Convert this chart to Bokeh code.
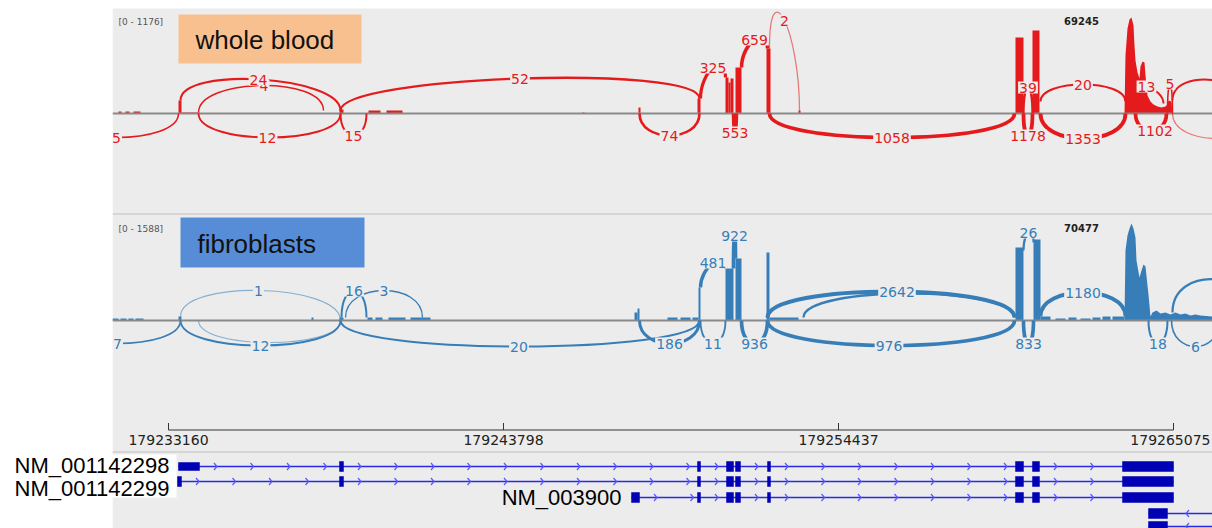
import numpy as np
from bokeh.plotting import figure
from bokeh.models import Range1d
from bokeh.core.properties import value
from bokeh.embed import file_html
from bokeh.resources import INLINE

# ---------------- data ----------------
TICKS = [179233160, 179243798, 179254437, 179265075]
TICK_LABELS = ["179233160", "179243798", "179254437", "179265075"]

SAMPLE_NAMES = ["whole blood", "fibroblasts"]
DATA_RANGE = [1176, 1588]
RANGE_TEXT = ["[0 - 1176]", "[0 - 1588]"]
MAX_TEXT = ["69245", "70477"]

# whole blood coverage (blocks)
WB_COV_START = [179231572, 179231794, 179232049, 179233478, 179233573, 179238590, 179239511,
                179240083, 179246307, 179248085, 179249959, 179250848, 179250943, 179251007,
                179251166, 179252150, 179253166, 179260057, 179260597]
WB_COV_END = [179231667, 179231922, 179232271, 179233573, 179234144, 179238717, 179239892,
              179240591, 179246370, 179248149, 179250054, 179250943, 179251007, 179251102,
              179251356, 179252277, 179253230, 179260311, 179260819]
WB_COV_DEPTH = [25, 25, 25, 159, 12, 49, 37, 37, 12, 74, 184, 441, 380, 430, 564, 796, 37, 931, 1017]
# whole blood coverage (3' end profile)
WB_PEAK_POS = [179263519, 179263550, 179263614, 179263678, 179263741, 179263805, 179263836,
               179263868, 179263932, 179263995, 179264027, 179264090, 179264154, 179264186,
               179264249, 179264344, 179264440, 179264567, 179264694, 179264821, 179264884,
               179264916, 179265011, 179265043]
WB_PEAK_DEPTH = [0, 711, 1041, 1152, 1176, 1078, 833, 649, 502, 429, 576, 637, 625, 466,
                 221, 147, 110, 86, 74, 86, 110, 159, 147, 0]
# whole blood junctions
WB_J_START = [179229540, 179233541, 179234113, 179234113, 179238622, 179238622, 179248117,
              179250054, 179251102, 179251356, 179252245, 179252245, 179260311, 179260311,
              179260851, 179260851, 179263678, 179264884, 179263868, 179265043, 179265043]
WB_J_END = [179233478, 179238622, 179238082, 179238622, 179250022, 179239448, 179250022,
            179250848, 179251197, 179252182, 179253198, 179260026, 179260597, 179260597,
            179263550, 179263550, 179264757, 179265043, 179264852, 179267838, 179267838]
WB_J_COUNT = [5, 24, 4, 12, 52, 15, 74, 325, 553, 659, 2, 1058, 39, 1178, 20, 1353, 13, 5, 1102, 15, 2]
WB_J_SIDE = [-1, 1, 1, -1, 1, -1, -1, 1, -1, 1, 1, -1, 1, -1, 1, -1, 1, 1, -1, 1, -1]

# fibroblast coverage (blocks)
FB_COV_START = [179231382, 179231636, 179231890, 179232112, 179233478, 179237701, 179238590,
                179239479, 179239733, 179240146, 179240845, 179247958, 179248054, 179249006,
                179249419, 179249800, 179249991, 179250848, 179251166, 179252150, 179252245,
                179260057, 179260629, 179260851, 179261328, 179261740, 179262122, 179262503,
                179262820, 179263138]
FB_COV_END = [179231572, 179231826, 179232049, 179232366, 179233573, 179237765, 179238717,
              179239638, 179239956, 179240686, 179241480, 179248054, 179248117, 179249324,
              179249737, 179249991, 179250054, 179251102, 179251356, 179252245, 179253166,
              179260311, 179260851, 179261169, 179261645, 179261994, 179262439, 179262756,
              179263074, 179263519]
FB_COV_DEPTH = [33, 33, 33, 33, 65, 49, 49, 49, 49, 49, 49, 131, 196, 49, 49, 49, 540, 851,
                1015, 1113, 49, 1195, 1326, 65, 33, 49, 33, 49, 65, 65]
FB_PEAK_POS = [179263519, 179263550, 179263614, 179263678, 179263741, 179263805, 179263868,
               179263900, 179263995, 179264059, 179264122, 179264186, 179264249, 179264281,
               179264344, 179264408, 179264535, 179264662, 179264821, 179264980, 179265138,
               179265297, 179265456, 179265615, 179265773, 179265932, 179266313]
FB_PEAK_DEPTH = [0, 1146, 1391, 1506, 1588, 1506, 1359, 982, 704, 819, 917, 884, 573, 426,
                 65, 131, 164, 115, 131, 98, 131, 98, 115, 82, 98, 82, 65]
FB_J_START = [179229540, 179233541, 179233541, 179234113, 179238654, 179238781, 179238622,
              179248117, 179250054, 179250054, 179251102, 179251356, 179252182, 179253325,
              179252182, 179260311, 179260311, 179260851, 179264281, 179265011, 179265043]
FB_J_END = [179233541, 179238622, 179238622, 179238622, 179239448, 179241226, 179250022,
            179250022, 179250848, 179250848, 179251166, 179252182, 179260026, 179260026,
            179260026, 179260629, 179260629, 179263550, 179264884, 179266535, 179267838]
FB_J_COUNT = [7, 1, 12, 1, 16, 3, 20, 186, 481, 11, 922, 936, 2642, 40, 976, 26, 833, 1180, 18, 6, 30]
FB_J_SIDE = [-1, 1, -1, -1, 1, 1, -1, -1, 1, -1, 1, -1, 1, 1, -1, 1, -1, 1, -1, -1, 1]

# transcripts
TX_NAMES = ["NM_001142298", "NM_001142299", "NM_003900", "", ""]
TX_STRAND = ["+", "+", "+", "-", "-"]
TX_EXON_START = [
    [179233478, 179238590, 179249959, 179250880, 179251166, 179252182, 179260057, 179260597, 179263455],
    [179233446, 179238590, 179249959, 179250880, 179251166, 179252182, 179260057, 179260597, 179263455],
    [179247863, 179249959, 179250880, 179251166, 179252182, 179260057, 179260597, 179263455],
    [179264281, 179269108],
    [179264281, 179269108],
]
TX_EXON_END = [
    [179234144, 179238717, 179250054, 179251102, 179251324, 179252277, 179260311, 179260819, 179265075],
    [179233573, 179238717, 179250054, 179251102, 179251324, 179252277, 179260311, 179260819, 179265075],
    [179248117, 179250054, 179251102, 179251324, 179252277, 179260311, 179260819, 179265075],
    [179264884, 179269300],
    [179264884, 179269300],
]

# ---------------- layout / style ----------------
RED = "#e41a1c"
BLUE = "#377eb8"
PANEL = "#ececec"
SEP = "#d6d6d6"
EXON = "#0000b4"
INTRON = "#2a2ae6"
CHEV = "#5a5aff"

TICK_PX = (168, 1173)
BPP = (TICKS[-1] - TICKS[0]) / (TICK_PX[1] - TICK_PX[0])


def gx(px):
    return TICKS[0] + (px - TICK_PX[0]) * BPP


W, H = 1212, 528
PX0, PX1, PY0, PY1 = 0, W, 0, H
X0, X1 = gx(PX0), gx(PX1)
TRACK_BASE = [113, 320]
TRACK_MAX_PX = [96, 97]
CPP = [DATA_RANGE[i] / TRACK_MAX_PX[i] for i in range(2)]
PANEL_LEFT = 112

# arc geometry (px): foot heights and apex distance from baseline
WB_FOOT0 = [0, 13, 1, 0, 3, 0, 0, 15, 0, 46, 65, 0, 0, 0, 12, 0, 20, 0, 0, 13, 0]
WB_FOOT1 = [0, 3, 3, 0, 15, 0, 0, 36, 0, 65, 3, 0, 0, 0, 12, 0, 10, 0, 0, 0, 0]
WB_APEX = [24, 34, 28, 24, 35, 22, 22, 46, 19, 74, 93, 24, 26, 22, 29, 25, 27, 30, 17, 33, 25]
WB_LABEL_DX = [0, -2, 3, -2, 0, 0, 0, 0, 0, 0, 0, 0, 0, 0, 0, 0, 0, 0, 4, 0, 0]
WB_HIDE = set()
FB_FOOT0 = [0, 4, 0, 0, 3, 3, 0, 0, 33, 0, 52, 0, 3, 3, 0, 70, 0, 4, 0, 0, 8]
FB_FOOT1 = [0, 0, 0, 0, 3, 3, 0, 0, 52, 0, 62, 0, 3, 3, 0, 78, 0, 4, 0, 0, 0]
FB_APEX = [23, 30, 25, 22, 30, 30, 26, 23, 58, 23, 85, 23, 29, 27, 25, 88, 23, 28, 23, 26, 41]
FB_LABEL_DX = [0, -2, 0, 0, 0, 0, -1, 0, 0, 0, 0, 0, 6, 0, -2, 0, 0, 0, 0, 0, 0]
FB_HIDE = {3, 13}

p = figure(width=W, height=H, x_range=Range1d(X0, X1), y_range=Range1d(PY1, PY0),
           output_backend="svg", toolbar_location=None, min_border=0,
           x_axis_location=None, y_axis_location=None,
           background_fill_color="white", border_fill_color="white", outline_line_color=None)
p.grid.visible = False
p.extra_y_ranges = {
    "wb": Range1d(-(PY1 - TRACK_BASE[0]) * CPP[0], (TRACK_BASE[0] - PY0) * CPP[0]),
    "fb": Range1d(-(PY1 - TRACK_BASE[1]) * CPP[1], (TRACK_BASE[1] - PY0) * CPP[1]),
}

# panel background
p.quad(left=gx(PANEL_LEFT), right=X1, bottom=PY1, top=8, fill_color=PANEL, line_color=None)
p.segment(x0=gx(PANEL_LEFT), x1=X1, y0=213.5, y1=213.5, line_color=SEP, line_width=2)
p.segment(x0=gx(PANEL_LEFT), x1=X1, y0=451.5, y1=451.5, line_color=SEP, line_width=2)

tracks = [
    ("wb", RED, WB_COV_START, WB_COV_END, WB_COV_DEPTH, WB_PEAK_POS, WB_PEAK_DEPTH,
     WB_J_START, WB_J_END, WB_J_COUNT, WB_J_SIDE, WB_FOOT0, WB_FOOT1, WB_APEX, WB_LABEL_DX, WB_HIDE),
    ("fb", BLUE, FB_COV_START, FB_COV_END, FB_COV_DEPTH, FB_PEAK_POS, FB_PEAK_DEPTH,
     FB_J_START, FB_J_END, FB_J_COUNT, FB_J_SIDE, FB_FOOT0, FB_FOOT1, FB_APEX, FB_LABEL_DX, FB_HIDE),
]

for ti, (rn, col, cs, ce, cd, pp, pd, js, je, jc, jside, f0, f1, ap, ldx, hide) in enumerate(tracks):
    c = CPP[ti]
    p.quad(left=cs, right=ce, bottom=0, top=cd, y_range_name=rn, fill_color=col, line_color=None)
    p.varea(x=pp, y1=[0] * len(pp), y2=pd, y_range_name=rn, fill_color=col)
    p.segment(x0=gx(PANEL_LEFT), x1=X1, y0=0, y1=0, y_range_name=rn, line_color="#8a8a8a", line_width=2)

    s = np.array(jside, float)
    y0 = s * np.array(f0, float) * c
    y1 = s * np.array(f1, float) * c
    A = s * np.array(ap, float) * c
    d = (A - (y0 + y1) / 2) / 0.75
    cnt = np.array(jc, float)
    lw = 0.8 + 0.42 * np.log(cnt + 1)
    alpha = np.where(cnt <= 2, 0.55, 1.0)
    p.bezier(x0=js, y0=y0, x1=je, y1=y1, cx0=js, cy0=y0 + d, cx1=je, cy1=y1 + d,
             line_color=col, line_width=lw, line_alpha=alpha, y_range_name=rn)

    mids = (np.array(js, float) + np.array(je, float)) / 2 + np.array(ldx, float) * BPP
    keep = [i for i in range(len(js)) if i not in hide and gx(PANEL_LEFT) < mids[i] < gx(PX1 - 8)]
    keep.sort(key=lambda i: jc[i])  # larger counts drawn on top
    p.text(x=[mids[i] for i in keep], y=[A[i] for i in keep], text=[str(jc[i]) for i in keep],
           y_range_name=rn, text_align="center", text_baseline="middle",
           text_font=value("DejaVu Sans"), text_font_size="14px", text_color=col,
           background_fill_color=PANEL, padding=1)

# white margin left of the data panel (clips arcs running off the left edge)
p.quad(left=X0 - 1000, right=gx(PANEL_LEFT), bottom=PY1, top=PY0, fill_color="white", line_color=None)

# track annotations
RANGE_Y = [21, 228]
for ti in range(2):
    p.text(x=[gx(118)], y=[RANGE_Y[ti]], text=[RANGE_TEXT[ti]], text_align="left",
           text_baseline="middle", text_font=value("DejaVu Sans"), text_font_size="9px",
           text_color="#555555")
    p.text(x=[gx(1081)], y=[RANGE_Y[ti] - 1], text=[MAX_TEXT[ti]], text_align="center",
           text_baseline="middle", text_font=value("DejaVu Sans"), text_font_size="10px",
           text_font_style="bold", text_color="#222222")

BOX = [(178, 361, 14, 63, "#f9c08f"), (180, 364, 217, 267, "#578dd6")]
for ti, (l, r, t, b, fc) in enumerate(BOX):
    p.quad(left=gx(l), right=gx(r), top=t, bottom=b, fill_color=fc, line_color=None)
    p.text(x=[gx(l + 17)], y=[(t + b) / 2 + 1], text=[SAMPLE_NAMES[ti]], text_align="left",
           text_baseline="middle", text_font=value("Liberation Sans"), text_font_size="26px",
           text_color="#111111")

# axis
AXIS_Y = 429.5
p.segment(x0=TICKS[0], x1=TICKS[-1], y0=AXIS_Y, y1=AXIS_Y, line_color="#333333", line_width=1)
p.segment(x0=TICKS, x1=TICKS, y0=[AXIS_Y] * 4, y1=[AXIS_Y - 7] * 4, line_color="#333333", line_width=1)
p.text(x=TICKS[:-1], y=[439] * 3, text=TICK_LABELS[:-1], text_align="center", text_baseline="middle",
       text_font=value("DejaVu Sans"), text_font_size="14px", text_color="#222222")
# last tick label kept inside the canvas
p.text(x=[gx(PX1 - 2)], y=[439], text=[TICK_LABELS[-1]], text_align="right", text_baseline="middle",
       text_font=value("DejaVu Sans"), text_font_size="14px", text_color="#222222")

# gene label background
p.quad(left=gx(PANEL_LEFT), right=gx(176), top=454, bottom=497, fill_color="white", line_color=None)

# transcripts
ROW_Y = [466, 481, 497, 513, 526]
for r in range(len(TX_NAMES)):
    y = ROW_Y[r]
    st, en = TX_EXON_START[r], TX_EXON_END[r]
    p.segment(x0=st[0], x1=en[-1], y0=y, y1=y, line_color=INTRON, line_width=1.4)
    cx, cy = [], []
    step = 36.5 * BPP
    for i in range(len(st) - 1):
        a, b = en[i], st[i + 1]
        pos = a + 17 * BPP
        while pos < b - 4 * BPP:
            if TX_STRAND[r] == "+":
                cx.append([pos - 2.5 * BPP, pos + 0.5 * BPP, pos - 2.5 * BPP])
            else:
                cx.append([pos + 4.5 * BPP, pos + 1.5 * BPP, pos + 4.5 * BPP])
            cy.append([y - 3.5, y, y + 3.5])
            pos += step
    p.multi_line(xs=cx, ys=cy, line_color=CHEV, line_width=1.2)
    h = [4 if (k == 0 and r == 0) else 5 for k in range(len(st))]
    p.quad(left=st, right=en, top=[y - hh for hh in h], bottom=[y + hh for hh in h],
           fill_color=EXON, line_color=EXON, line_width=0.5)

NAME_POS = [(169, 465), (169, 488), (621, 497)]
for r, (nx, ny) in enumerate(NAME_POS):
    p.text(x=[gx(nx)], y=[ny], text=[TX_NAMES[r]], text_align="right", text_baseline="middle",
           text_font=value("Liberation Sans"), text_font_size="22px", text_color="#000000")

open("out.html", "w").write(file_html(p, INLINE))
